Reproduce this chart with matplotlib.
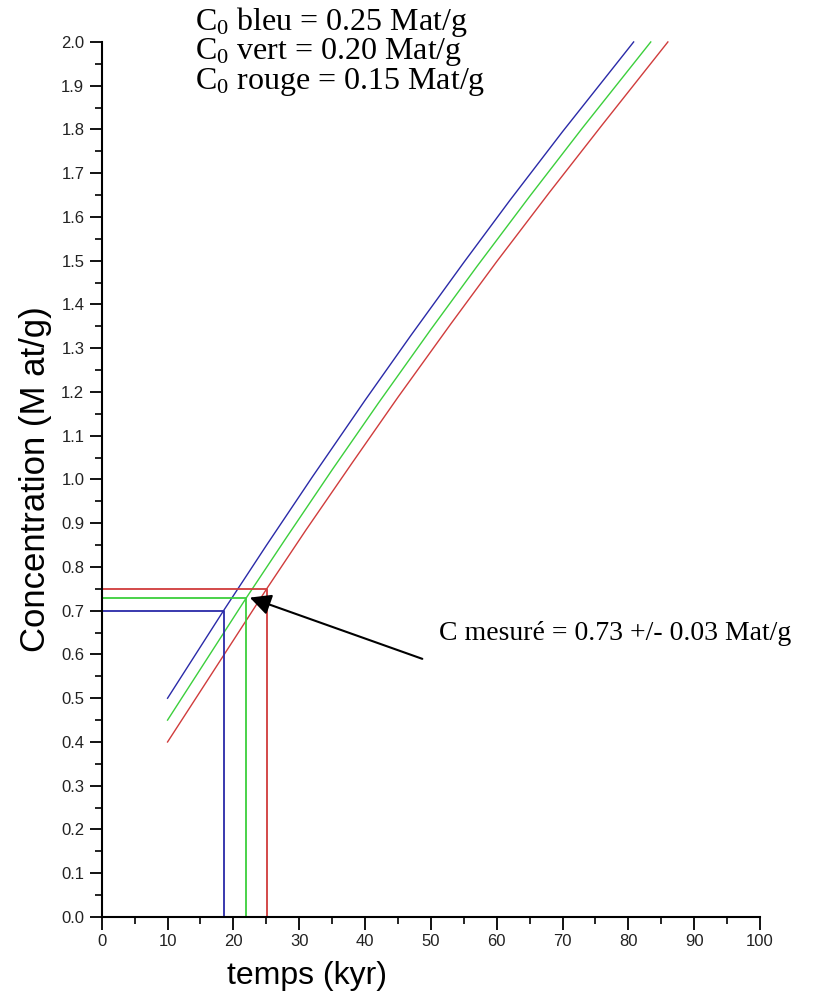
import matplotlib.pyplot as plt
from matplotlib.ticker import MultipleLocator, FormatStrFormatter

plt.rcParams['mathtext.fontset'] = 'custom'
plt.rcParams['mathtext.rm'] = 'Liberation Serif'
plt.rcParams['mathtext.it'] = 'Liberation Serif'

# courbes C(t) pour les trois concentrations héritées
t_bleu = [10, 18.5, 25, 32, 40, 47, 55, 62, 70, 80.8]
c_bleu = [0.500, 0.700, 0.849, 1.006, 1.181, 1.330, 1.496, 1.638, 1.795, 2.000]
t_vert = [10, 21.9, 28, 35, 42, 50, 57, 65, 73, 83.4]
c_vert = [0.450, 0.728, 0.866, 1.022, 1.174, 1.343, 1.487, 1.647, 1.803, 2.000]
t_rouge = [10, 25.1, 31, 38, 45, 53, 60, 68, 76, 86.0]
c_rouge = [0.400, 0.751, 0.884, 1.037, 1.188, 1.355, 1.498, 1.656, 1.810, 2.000]

# concentration mesurée et âges lus sur chaque courbe
c_mes = [0.70, 0.73, 0.75]
t_mes = [18.5, 21.9, 25.1]

couleurs = ['#2a2aa8', '#3ccf3c', '#d03c3c']
legende = [r'C$_0$ bleu = 0.25 Mat/g',
           r'C$_0$ vert = 0.20 Mat/g',
           r'C$_0$ rouge = 0.15 Mat/g']

fig = plt.figure(figsize=(8.19, 9.99), dpi=100)
ax = fig.add_axes([0.1242, 0.0821, 0.8038, 0.8759])

for t, c, col in zip([t_bleu, t_vert, t_rouge], [c_bleu, c_vert, c_rouge], couleurs):
    ax.plot(t, c, color=col, lw=1.0, clip_on=False)

for t, c, col in zip(t_mes, c_mes, couleurs):
    ax.plot([0, t, t], [c, c, 0], color=col, lw=1.3)

ax.set_xlim(0, 100)
ax.set_ylim(0, 2.0)
ax.spines['top'].set_visible(False)
ax.spines['right'].set_visible(False)
ax.spines['left'].set_linewidth(1.5)
ax.spines['bottom'].set_linewidth(1.5)

ax.xaxis.set_major_locator(MultipleLocator(10))
ax.xaxis.set_minor_locator(MultipleLocator(5))
ax.yaxis.set_major_locator(MultipleLocator(0.1))
ax.yaxis.set_minor_locator(MultipleLocator(0.05))
ax.yaxis.set_major_formatter(FormatStrFormatter('%.1f'))
ax.tick_params(which='major', length=9, width=1.3, labelsize=12,
               labelcolor='#222222', direction='out')
ax.tick_params(which='minor', length=5, width=1.2, direction='out')
for lab in ax.get_xticklabels() + ax.get_yticklabels():
    lab.set_fontfamily('Liberation Sans')

ax.set_ylabel('Concentration (M at/g)', fontsize=25, family='Liberation Sans')
ax.yaxis.set_label_coords(-0.075, 0.5)
ax.set_xlabel('temps (kyr)', fontsize=23, family='Liberation Sans')
ax.xaxis.set_label_coords(0.312, -0.05)

for i, txt in enumerate(legende):
    fig.text(195 / 819, 1 - (22 + 30 * i) / 999, txt, fontsize=23,
             family='Liberation Serif', va='center', ha='left')

# flèche vers le point de mesure
ax.annotate('', xy=(22.5, 0.73), xytext=(48.7, 0.59), annotation_clip=False,
            arrowprops=dict(arrowstyle='-|>', color='black', lw=1.5,
                            mutation_scale=32, shrinkA=0, shrinkB=0))
ax.text(51.3, 0.648, 'C mesuré = 0.73 +/- 0.03 Mat/g', fontsize=20,
        family='Liberation Serif', va='center', ha='left', clip_on=False)

fig.savefig('out.png', dpi=100)
